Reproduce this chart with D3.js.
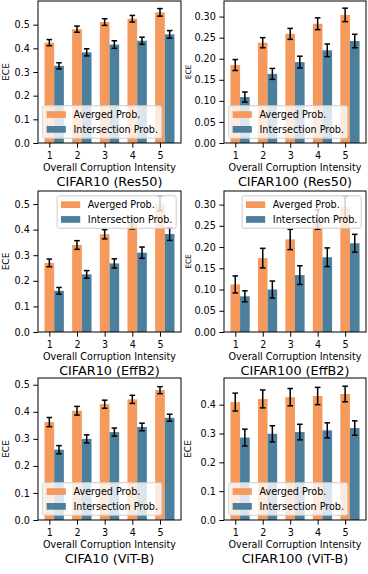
<!DOCTYPE html>
<html><head><meta charset="utf-8">
<script src="https://cdn.jsdelivr.net/npm/d3@7"></script>
<style>html,body{margin:0;padding:0;background:#fff;}svg{display:block;}</style>
</head><body>
<script>
// ---- data ----
const intensities = [1, 2, 3, 4, 5];
const xTickLabels = ["1", "2", "3", "4", "5"];
const seriesNames = ["Averged Prob.", "Intersection Prob."];
const titles = ["CIFAR10 (Res50)", "CIFAR100 (Res50)", "CIFAR10 (EffB2)", "CIFAR100 (EffB2)", "CIFA10 (ViT-B)", "CIFAR100 (ViT-B)"];
const xLabel = "Overall Corruption Intensity";
const yLabel = "ECE";

const c10Res50Avg = [0.424, 0.481, 0.511, 0.525, 0.552];
const c10Res50AvgErr = [0.013, 0.013, 0.014, 0.014, 0.016];
const c10Res50Int = [0.326, 0.383, 0.416, 0.432, 0.459];
const c10Res50IntErr = [0.013, 0.015, 0.016, 0.015, 0.016];

const c100Res50Avg = [0.185, 0.238, 0.259, 0.283, 0.304];
const c100Res50AvgErr = [0.013, 0.012, 0.013, 0.014, 0.016];
const c100Res50Int = [0.109, 0.164, 0.192, 0.220, 0.242];
const c100Res50IntErr = [0.012, 0.013, 0.014, 0.015, 0.016];

const c10EffAvg = [0.270, 0.340, 0.382, 0.425, 0.502];
const c10EffAvgErr = [0.015, 0.017, 0.018, 0.022, 0.028];
const c10EffInt = [0.161, 0.225, 0.268, 0.310, 0.383];
const c10EffIntErr = [0.013, 0.015, 0.018, 0.022, 0.025];

const c100EffAvg = [0.112, 0.174, 0.218, 0.265, 0.294];
const c100EffAvgErr = [0.020, 0.023, 0.024, 0.023, 0.025];
const c100EffInt = [0.084, 0.100, 0.134, 0.176, 0.209];
const c100EffIntErr = [0.013, 0.020, 0.022, 0.022, 0.021];

const c10VitAvg = [0.362, 0.404, 0.428, 0.446, 0.480];
const c10VitAvgErr = [0.017, 0.016, 0.015, 0.015, 0.013];
const c10VitInt = [0.260, 0.300, 0.325, 0.344, 0.378];
const c10VitIntErr = [0.015, 0.015, 0.015, 0.014, 0.013];

const c100VitAvg = [0.409, 0.420, 0.426, 0.430, 0.437];
const c100VitAvgErr = [0.031, 0.031, 0.030, 0.030, 0.027];
const c100VitInt = [0.286, 0.299, 0.305, 0.311, 0.319];
const c100VitIntErr = [0.029, 0.028, 0.027, 0.026, 0.025];

const yTicksA = [0, 0.1, 0.2, 0.3, 0.4, 0.5];
const yTicksB = [0, 0.05, 0.10, 0.15, 0.20, 0.25, 0.30];
const yTicksC = [0, 0.1, 0.2, 0.3, 0.4];
const yMaxes = [0.600, 0.337, 0.551, 0.332, 0.525, 0.4925];

// ---- layout / style ----
const W = 368, H = 574;
const colors = ["#f59a5c", "#4b7f9c"];
const FONT = "DejaVu Sans";
const fs = 9.6;
const colX = [[38, 181], [224, 366]];
const rowY = [[1, 143], [191, 332], [378, 520]];

const panels = [
  {avg: c10Res50Avg, avgErr: c10Res50AvgErr, int: c10Res50Int, intErr: c10Res50IntErr, ticks: yTicksA, dec: 1, leg: "ll", ylfs: 9},
  {avg: c100Res50Avg, avgErr: c100Res50AvgErr, int: c100Res50Int, intErr: c100Res50IntErr, ticks: yTicksB, dec: 2, leg: "ll", ylfs: 7.5},
  {avg: c10EffAvg, avgErr: c10EffAvgErr, int: c10EffInt, intErr: c10EffIntErr, ticks: yTicksA, dec: 1, leg: "ur", ylfs: 9},
  {avg: c100EffAvg, avgErr: c100EffAvgErr, int: c100EffInt, intErr: c100EffIntErr, ticks: yTicksB, dec: 2, leg: "ur", ylfs: 7.5},
  {avg: c10VitAvg, avgErr: c10VitAvgErr, int: c10VitInt, intErr: c10VitIntErr, ticks: yTicksA, dec: 1, leg: "ll", ylfs: 9},
  {avg: c100VitAvg, avgErr: c100VitAvgErr, int: c100VitInt, intErr: c100VitIntErr, ticks: yTicksC, dec: 1, leg: "ll", ylfs: 9}
];

const svg = d3.select("body").append("svg").attr("width", W).attr("height", H)
  .attr("font-family", FONT);

const bw = 0.35;
panels.forEach((p, i) => {
  const col = i % 2, row = Math.floor(i / 2);
  const [x0, x1] = colX[col];
  const [y0, y1] = rowY[row];
  const lo = intensities[0] - bw / 2, hi = intensities[intensities.length - 1] + bw + bw / 2;
  const m = (hi - lo) * 0.05;
  const x = d3.scaleLinear().domain([lo - m, hi + m]).range([x0, x1]);
  const y = d3.scaleLinear().domain([0, yMaxes[i]]).range([y1, y0]);
  const g = svg.append("g");

  const series = [
    {vals: p.avg, errs: p.avgErr, off: 0, color: colors[0]},
    {vals: p.int, errs: p.intErr, off: bw, color: colors[1]}
  ];
  const bpx = x(bw) - x(0);
  series.forEach(s => {
    g.selectAll(null).data(intensities).enter().append("rect")
      .attr("x", (d) => x(d + s.off) - bpx / 2)
      .attr("width", bpx)
      .attr("y", (d, k) => y(s.vals[k]))
      .attr("height", (d, k) => y(0) - y(s.vals[k]))
      .attr("fill", s.color);
    const eb = g.selectAll(null).data(intensities).enter().append("g")
      .attr("stroke", "#000").attr("stroke-width", 1.5).attr("fill", "none");
    eb.append("line").attr("x1", d => x(d + s.off)).attr("x2", d => x(d + s.off))
      .attr("y1", (d, k) => y(s.vals[k] - s.errs[k])).attr("y2", (d, k) => y(s.vals[k] + s.errs[k]));
    eb.append("line").attr("x1", d => x(d + s.off) - 2.8).attr("x2", d => x(d + s.off) + 2.8)
      .attr("y1", (d, k) => y(s.vals[k] - s.errs[k])).attr("y2", (d, k) => y(s.vals[k] - s.errs[k]));
    eb.append("line").attr("x1", d => x(d + s.off) - 2.8).attr("x2", d => x(d + s.off) + 2.8)
      .attr("y1", (d, k) => y(s.vals[k] + s.errs[k])).attr("y2", (d, k) => y(s.vals[k] + s.errs[k]));
  });

  // axes
  const yAxis = d3.axisLeft(y).tickValues(p.ticks).tickFormat(d3.format("." + p.dec + "f"))
    .tickSize(4.7).tickPadding(3.5);
  const ya = g.append("g").attr("transform", `translate(${x0},0)`).call(yAxis);
  const xAxis = d3.axisBottom(x).tickValues(intensities).tickFormat((d, k) => xTickLabels[k])
    .tickSize(4.7).tickPadding(4.8);
  const xa = g.append("g").attr("transform", `translate(0,${y1})`).call(xAxis);
  [ya, xa].forEach(a => {
    a.select(".domain").remove();
    a.selectAll(".tick line").attr("stroke", "#000").attr("stroke-width", 1);
    a.selectAll(".tick text").attr("font-size", fs).attr("font-family", FONT).attr("fill", "#000");
  });
  g.append("rect").attr("x", x0).attr("y", y0).attr("width", x1 - x0).attr("height", y1 - y0)
    .attr("fill", "none").attr("stroke", "#000").attr("stroke-width", 1);

  // labels
  g.append("text").attr("x", (x0 + x1) / 2).attr("y", y1 + 27.5).attr("text-anchor", "middle")
    .attr("font-size", fs).text(xLabel);
  g.append("text").attr("x", (x0 + x1) / 2).attr("y", y1 + 42.5).attr("text-anchor", "middle")
    .attr("font-size", 12.8).text(titles[i]);
  const ylx = col === 0 ? 6 : 188;
  g.append("text").attr("transform", `translate(${ylx + 3},${(y0 + y1) / 2}) rotate(-90)`)
    .attr("text-anchor", "middle").attr("font-size", p.ylfs).text(yLabel);

  // legend
  const bp = 0.4 * fs, hl = 2 * fs, htp = 0.8 * fs, ls = 0.5 * fs, rowh = 10, pad = 0.5 * fs;
  const tw = Math.max(...seriesNames.map(t => {
    const tt = svg.append("text").attr("font-size", fs).text(t);
    const w = tt.node().getComputedTextLength(); tt.remove(); return w;
  }));
  const lw = 2 * bp + hl + htp + tw;
  const lh = 2 * bp + 2 * rowh + ls;
  const lx = p.leg === "ll" ? x0 + pad : x1 - pad - lw;
  const ly = p.leg === "ll" ? y1 - pad - lh : y0 + pad;
  const lg = g.append("g").attr("transform", `translate(${lx},${ly})`);
  lg.append("rect").attr("width", lw).attr("height", lh).attr("rx", 2)
    .attr("fill", "#fff").attr("fill-opacity", 0.8).attr("stroke", "#ccc").attr("stroke-width", 1);
  seriesNames.forEach((nm, k) => {
    const cy = bp + rowh / 2 + k * (rowh + ls);
    lg.append("rect").attr("x", bp).attr("y", cy - 0.35 * fs).attr("width", hl).attr("height", 0.7 * fs)
      .attr("fill", colors[k]);
    lg.append("text").attr("x", bp + hl + htp).attr("y", cy + 3.5).attr("font-size", fs).text(nm);
  });
});
</script>
</body></html>
